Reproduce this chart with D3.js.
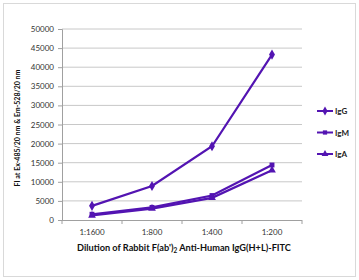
<!DOCTYPE html>
<html><head><meta charset="utf-8">
<script src="https://cdn.jsdelivr.net/npm/d3@7"></script>
<style>
html,body{margin:0;padding:0;background:#fff;}
svg{display:block;font-family:Lato,"Open Sans",sans-serif;}
</style></head>
<body><svg id="c" width="359" height="280"></svg>
<script>
const categories = ["1:1600", "1:800", "1:400", "1:200"];
const igG = [3700, 8900, 19300, 43300];
const igM = [1500, 3300, 6400, 14400];
const igA = [1200, 3000, 5800, 13000];
const seriesNames = ["IgG", "IgM", "IgA"];
const yTicks = [0, 5000, 10000, 15000, 20000, 25000, 30000, 35000, 40000, 45000, 50000];

const color = "#5314b2";
const svg = d3.select("#c");
svg.append("rect").attr("x",3.5).attr("y",3.5).attr("width",352).attr("height",273)
  .attr("fill","#fff").attr("stroke","#d9d9d9");

const L=62, R=302, T=29, B=220;
const x = d3.scalePoint().domain(categories).range([L,R]).padding(0.5);
const y = d3.scaleLinear().domain([0,50000]).range([B,T]);

// gridlines
svg.append("g").selectAll("line").data(yTicks.filter(d=>d>0)).join("line")
  .attr("x1",L).attr("x2",R).attr("y1",d=>y(d)).attr("y2",d=>y(d))
  .attr("stroke","#c8c8c8").attr("stroke-width",1);

// y axis
const ya = svg.append("g").attr("transform",`translate(${L},0)`)
  .call(d3.axisLeft(y).tickValues(yTicks).tickFormat(d3.format("d")).tickSize(4).tickPadding(4));
ya.select(".domain").attr("stroke","#a0a0a0");
ya.selectAll(".tick line").attr("stroke","#a0a0a0");
ya.selectAll("text").attr("font-size",8).attr("fill","#333").attr("font-family","Lato,sans-serif");

// x axis
const xa = svg.append("g").attr("transform",`translate(0,${B})`);
xa.append("line").attr("x1",L).attr("x2",R).attr("y1",0.5).attr("y2",0.5).attr("stroke","#a0a0a0");
const step = x.step();
const bounds = d3.range(categories.length+1).map(i=>L+i*step);
xa.selectAll("line.t").data(bounds).join("line").attr("class","t")
  .attr("x1",d=>d).attr("x2",d=>d).attr("y1",0).attr("y2",4).attr("stroke","#a0a0a0");
xa.selectAll("text").data(categories).join("text")
  .attr("x",d=>x(d)).attr("y",15).attr("text-anchor","middle")
  .attr("font-size",8).attr("fill","#333").text(d=>d);

// titles
const xt = svg.append("text").attr("x",184).attr("y",251).attr("text-anchor","middle")
  .attr("font-size",9.2).attr("font-weight","bold").attr("fill","#111");
xt.append("tspan").text("Dilution of Rabbit F(ab')");
xt.append("tspan").attr("font-size",6.5).attr("dy",2).text("2");
xt.append("tspan").attr("dy",-2).text(" Anti-Human IgG(H+L)-FITC");

svg.append("text").attr("transform",`translate(20,128) rotate(-90)`)
  .attr("text-anchor","middle").attr("font-size",7).attr("font-weight","bold").attr("fill","#111")
  .text("FI at Ex-485/20 nm & Em-528/20 nm");

// series
const data = [igG, igM, igA];
const symbols = [d3.symbolDiamond, d3.symbolSquare, d3.symbolTriangle];
const sizes = [30, 24, 26];
const line = d3.line().x((d,i)=>x(categories[i])).y(d=>y(d));
data.forEach((vals,k)=>{
  svg.append("path").datum(vals).attr("d",line).attr("fill","none")
    .attr("stroke",color).attr("stroke-width",2.2);
  svg.append("g").selectAll("path").data(vals).join("path")
    .attr("transform",(d,i)=>`translate(${x(categories[i])},${y(d)})`)
    .attr("d",d3.symbol().type(symbols[k]).size(sizes[k])).attr("fill",color);
});

// legend
const lg = svg.append("g");
seriesNames.forEach((n,k)=>{
  const ly = 111 + k*21.5;
  lg.append("line").attr("x1",317).attr("x2",333).attr("y1",ly).attr("y2",ly)
    .attr("stroke",color).attr("stroke-width",2);
  lg.append("path").attr("transform",`translate(325,${ly})`)
    .attr("d",d3.symbol().type(symbols[k]).size(sizes[k]-6)).attr("fill",color);
  lg.append("text").attr("x",335).attr("y",ly+3).attr("font-size",8).attr("font-weight","bold")
    .attr("fill","#222").text(n);
});
</script></body></html>
